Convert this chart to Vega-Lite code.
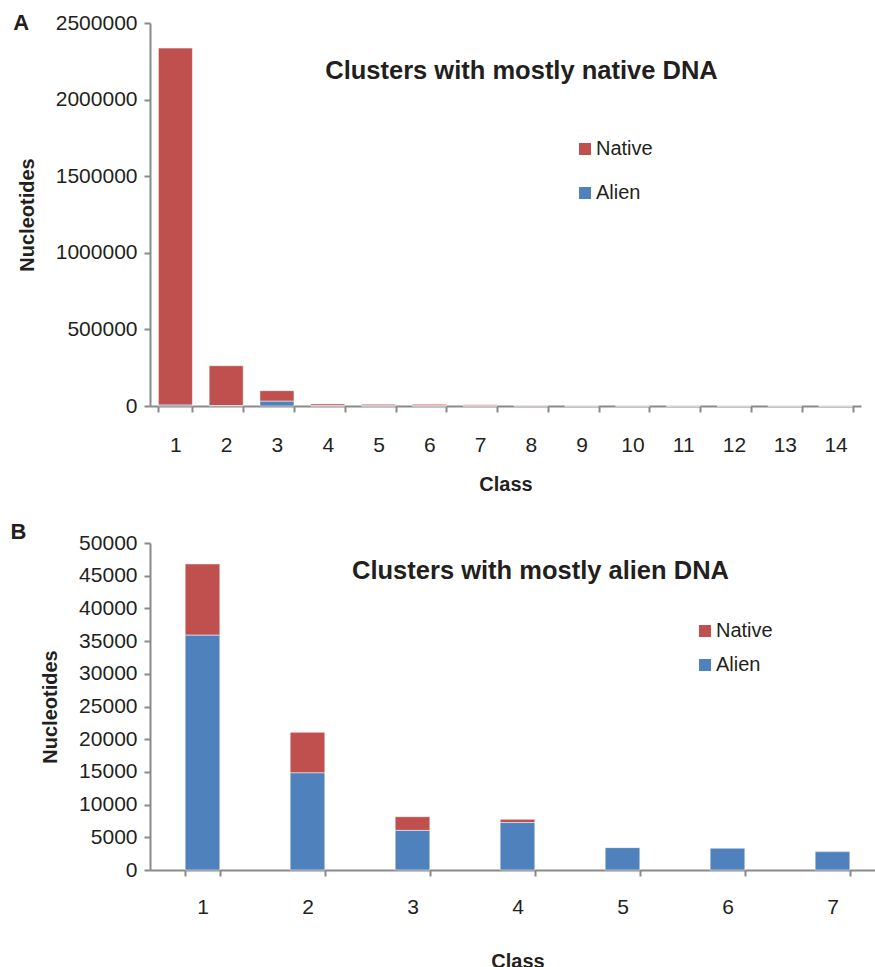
{
  "$schema": "https://vega.github.io/schema/vega-lite/v6.json",
  "padding": {"left": 10, "top": 12, "right": 0, "bottom": 0},
  "background": "white",
  "config": {
    "font": "Liberation Sans",
    "view": {"stroke": null},
    "axis": {
      "domainColor": "#898989", "domainWidth": 2, "tickColor": "#898989", "tickWidth": 2, "tickSize": 6,
      "labelFont": "Liberation Sans", "labelFontSize": 21, "labelColor": "#231f20",
      "titleFont": "Liberation Sans", "titleFontSize": 20, "titleFontWeight": "bold", "titleColor": "#231f20",
      "grid": false
    },
    "legend": {
      "labelFont": "Liberation Sans", "labelFontSize": 20, "labelColor": "#231f20",
      "symbolType": "square", "symbolSize": 144, "symbolStrokeWidth": 0, "labelOffset": 1, "padding": 0, "title": null
    },
    "title": {"font": "Liberation Sans", "color": "#231f20"}
  },
  "spacing": 27,
  "vconcat": [
    {
      "title": {"text": "A", "anchor": "start", "frame": "bounds", "fontSize": 22, "fontWeight": "bold", "dx": -4, "offset": -23},
      "vconcat": [
        {
          "width": 711,
          "height": 383,
          "title": {"text": "Clusters with mostly native DNA", "fontSize": 25.5, "fontWeight": "bold", "baseline": "alphabetic", "offset": -92, "dx": 16, "anchor": "middle"},
          "data": {"values": [
            {"cls": 1, "type": "Native", "n": 2330000}, {"cls": 1, "type": "Alien", "n": 6000},
            {"cls": 2, "type": "Native", "n": 260000}, {"cls": 2, "type": "Alien", "n": 3000},
            {"cls": 3, "type": "Native", "n": 69000}, {"cls": 3, "type": "Alien", "n": 31000},
            {"cls": 4, "type": "Native", "n": 12000}, {"cls": 4, "type": "Alien", "n": 1500},
            {"cls": 5, "type": "Native", "n": 10000}, {"cls": 5, "type": "Alien", "n": 1000},
            {"cls": 6, "type": "Native", "n": 10000}, {"cls": 6, "type": "Alien", "n": 800},
            {"cls": 7, "type": "Native", "n": 7000}, {"cls": 7, "type": "Alien", "n": 500},
            {"cls": 8, "type": "Native", "n": 4000}, {"cls": 8, "type": "Alien", "n": 300},
            {"cls": 9, "type": "Native", "n": 1500}, {"cls": 9, "type": "Alien", "n": 200},
            {"cls": 10, "type": "Native", "n": 1000}, {"cls": 10, "type": "Alien", "n": 100},
            {"cls": 11, "type": "Native", "n": 800}, {"cls": 11, "type": "Alien", "n": 100},
            {"cls": 12, "type": "Native", "n": 500}, {"cls": 12, "type": "Alien", "n": 50},
            {"cls": 13, "type": "Native", "n": 400}, {"cls": 13, "type": "Alien", "n": 50},
            {"cls": 14, "type": "Native", "n": 300}, {"cls": 14, "type": "Alien", "n": 30}
          ]},
          "mark": {"type": "bar", "stroke": "#ffffff", "strokeOpacity": 0.5, "strokeWidth": 1},
          "encoding": {
            "x": {"field": "cls", "type": "ordinal", "scale": {"paddingInner": 0.33, "paddingOuter": 0.165},
                  "axis": {"title": "Class", "labelAngle": 0, "tickBand": "extent", "labelPadding": 22, "titlePadding": 19}},
            "y": {"field": "n", "type": "quantitative", "scale": {"domain": [0, 2500000]},
                  "axis": {"title": "Nucleotides", "values": [0, 500000, 1000000, 1500000, 2000000, 2500000], "format": "d", "labelPadding": 7, "titlePadding": 18}},
            "color": {"field": "type", "type": "nominal", "scale": {"domain": ["Native", "Alien"], "range": ["#C0504D", "#4F81BD"]},
                      "legend": {"orient": "none", "legendX": 425, "legendY": 116, "rowPadding": 24}},
            "order": {"field": "type", "sort": "ascending"}
          }
        }
      ]
    },
    {
      "title": {"text": "B", "anchor": "start", "frame": "bounds", "fontSize": 22, "fontWeight": "bold", "dx": -30, "offset": -12},
      "vconcat": [
        {
          "width": 735,
          "height": 327,
          "title": {"text": "Clusters with mostly alien DNA", "fontSize": 25.5, "fontWeight": "bold", "baseline": "alphabetic", "offset": -72, "dx": 23, "anchor": "middle"},
          "data": {"values": [
            {"cls": 1, "type": "Native", "n": 10900}, {"cls": 1, "type": "Alien", "n": 35900},
            {"cls": 2, "type": "Native", "n": 6200}, {"cls": 2, "type": "Alien", "n": 14850},
            {"cls": 3, "type": "Native", "n": 2100}, {"cls": 3, "type": "Alien", "n": 6050},
            {"cls": 4, "type": "Native", "n": 500}, {"cls": 4, "type": "Alien", "n": 7250},
            {"cls": 5, "type": "Native", "n": 0}, {"cls": 5, "type": "Alien", "n": 3420},
            {"cls": 6, "type": "Native", "n": 0}, {"cls": 6, "type": "Alien", "n": 3330},
            {"cls": 7, "type": "Native", "n": 100}, {"cls": 7, "type": "Alien", "n": 2800}
          ]},
          "mark": {"type": "bar", "stroke": "#ffffff", "strokeOpacity": 0.5, "strokeWidth": 1},
          "encoding": {
            "x": {"field": "cls", "type": "ordinal", "scale": {"paddingInner": 0.67, "paddingOuter": 0.335},
                  "axis": {"title": "Class", "labelAngle": 0, "tickBand": "extent", "labelPadding": 20, "titlePadding": 34}},
            "y": {"field": "n", "type": "quantitative", "scale": {"domain": [0, 50000]},
                  "axis": {"title": "Nucleotides", "values": [0, 5000, 10000, 15000, 20000, 25000, 30000, 35000, 40000, 45000, 50000], "format": "d", "labelPadding": 7, "titlePadding": 18}},
            "color": {"field": "type", "type": "nominal", "scale": {"domain": ["Native", "Alien"], "range": ["#C0504D", "#4F81BD"]},
                      "legend": {"orient": "none", "legendX": 545, "legendY": 78, "rowPadding": 14}},
            "order": {"field": "type", "sort": "ascending"}
          }
        }
      ]
    }
  ],
  "resolve": {"scale": {"color": "independent"}, "legend": {"color": "independent"}}
}
